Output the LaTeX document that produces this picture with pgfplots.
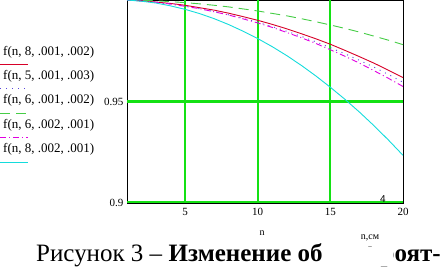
\documentclass[border=0pt]{standalone}
\usepackage{pgfplots}
\pgfplotsset{compat=1.18}
\usepackage{fontspec}
\setmainfont{Liberation Serif}
\newfontfamily\sansf{Liberation Sans}
\definecolor{cred}{RGB}{215,0,40}
\definecolor{cblue}{RGB}{90,70,220}
\definecolor{cgreen}{RGB}{70,205,70}
\definecolor{cmag}{RGB}{225,0,225}
\definecolor{ccyan}{RGB}{20,220,220}
\definecolor{cgrid}{RGB}{20,225,20}
\begin{document}
\begin{tikzpicture}[x=1pt,y=1pt]
\useasboundingbox (0,0) rectangle (442,266);
\begin{axis}[at={(127pt,63pt)}, anchor=south west,
  width=276pt, height=203pt, scale only axis,
  xmin=1, xmax=20, ymin=0.9, ymax=1.0,
  xtick={5,10,15,20}, ytick={0.9,0.95}, yticklabels={0.9,0.95},
  major tick length=0pt,
  axis line style={black, line width=0.8pt},
  tick label style={font=\fontsize{11}{13}\selectfont},
  xticklabel style={yshift=-2pt},
  /pgf/number format/assume math mode=true,
  clip=true]
\fill[cgrid] ([xshift=-0.9pt]axis cs:5,0.9) rectangle ([xshift=0.9pt]axis cs:5,1.0);
\fill[cgrid] ([xshift=-0.9pt]axis cs:10,0.9) rectangle ([xshift=0.9pt]axis cs:10,1.0);
\fill[cgrid] ([xshift=-0.9pt]axis cs:15,0.9) rectangle ([xshift=0.9pt]axis cs:15,1.0);
\fill[cgrid] ([yshift=-1.0pt]axis cs:1,0.95) rectangle ([yshift=1.2pt]axis cs:20,0.95);
\fill[cgrid] ([yshift=0.4pt]axis cs:1,0.9) rectangle ([yshift=2pt]axis cs:20,0.9);
\addplot[cred, line width=0.9pt] coordinates {
(1,1.0000)(2,0.9996)(3,0.9990)(4,0.9983)(5,0.9974)(6,0.9962)(7,0.9950)(8,0.9935)(9,0.9918)(10,0.9900)
(11,0.9880)(12,0.9858)(13,0.9834)(14,0.9809)(15,0.9782)(16,0.9752)(17,0.9721)(18,0.9689)(19,0.9654)(20,0.9618)};
\addplot[cblue, line width=0.9pt, dash pattern=on 1pt off 5pt] coordinates {
(1,1.0000)(2,0.9995)(3,0.9988)(4,0.9980)(5,0.9969)(6,0.9957)(7,0.9943)(8,0.9927)(9,0.9910)(10,0.9890)
(11,0.9869)(12,0.9846)(13,0.9821)(14,0.9794)(15,0.9765)(16,0.9735)(17,0.9703)(18,0.9669)(19,0.9633)(20,0.9595)};
\addplot[cgreen, line width=0.9pt, dash pattern=on 10pt off 6pt] coordinates {
(1,1.0000)(2,0.9998)(3,0.9996)(4,0.9992)(5,0.9987)(6,0.9981)(7,0.9974)(8,0.9966)(9,0.9956)(10,0.9946)
(11,0.9934)(12,0.9922)(13,0.9908)(14,0.9893)(15,0.9877)(16,0.9860)(17,0.9842)(18,0.9822)(19,0.9802)(20,0.9780)};
\addplot[cmag, line width=0.9pt, dash pattern=on 6pt off 3pt on 1pt off 3pt] coordinates {
(1,1.0000)(2,0.9995)(3,0.9989)(4,0.9980)(5,0.9969)(6,0.9957)(7,0.9942)(8,0.9926)(9,0.9907)(10,0.9887)
(11,0.9865)(12,0.9840)(13,0.9814)(14,0.9786)(15,0.9755)(16,0.9723)(17,0.9689)(18,0.9652)(19,0.9614)(20,0.9574)};
\addplot[ccyan, line width=0.9pt] coordinates {
(1,1.0000)(2,0.9994)(3,0.9985)(4,0.9971)(5,0.9954)(6,0.9933)(7,0.9908)(8,0.9879)(9,0.9846)(10,0.9810)
(11,0.9770)(12,0.9726)(13,0.9678)(14,0.9626)(15,0.9570)(16,0.9511)(17,0.9448)(18,0.9381)(19,0.9310)(20,0.9235)};
\end{axis}
% legend
\begin{scope}[every node/.style={anchor=west, inner sep=0pt, font=\fontsize{13}{15}\selectfont}]
\node at (3,214) {f(n, 8, .001, .002)};
\node at (3,190) {f(n, 5, .001, .003)};
\node at (3,166) {f(n, 6, .001, .002)};
\node at (3,141) {f(n, 6, .002, .001)};
\node at (3,117) {f(n, 8, .002, .001)};
\end{scope}
\draw[cred, line width=0.9pt] (0,202) -- (28,202);
\draw[cblue, line width=0.9pt, dash pattern=on 1pt off 5pt] (0,178) -- (28,178);
\draw[cgreen, line width=0.9pt, dash pattern=on 10pt off 6pt] (0,153) -- (28,153);
\draw[cmag, line width=0.9pt, dash pattern=on 6pt off 3pt on 1pt off 3pt] (0,129) -- (28,129);
\draw[ccyan, line width=0.9pt] (0,104) -- (28,104);
% labels
\node[font=\sansf\fontsize{10}{12}\selectfont, inner sep=0pt] at (383,67) {4};
\node[font=\fontsize{10}{12}\selectfont, inner sep=0pt] at (262,33) {n};
% caption
\node[anchor=base west, inner sep=0pt, font=\fontsize{25}{30}\selectfont] at (36,5) {Рисунок 3 – \textbf{Изменение об}};
\node[anchor=base east, inner sep=0pt, font=\fontsize{25}{30}\selectfont] at (441,5) {\textbf{роят-}};
\fill[white] (336,0) rectangle (393,40);
\node[font=\fontsize{10}{12}\selectfont, inner sep=0pt] at (370,28) {n,см};
\node[font=\fontsize{7}{8}\selectfont, inner sep=0pt] at (370,18) {–};
\end{tikzpicture}
\end{document}
